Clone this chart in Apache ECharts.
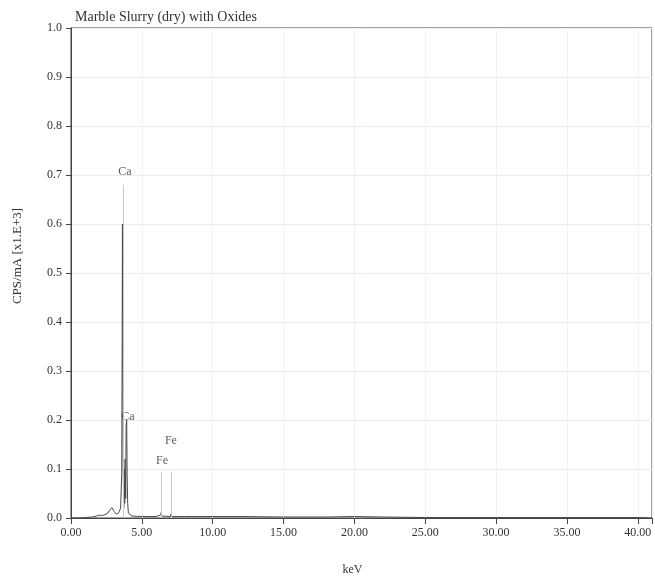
<!DOCTYPE html>
<html><head><meta charset="utf-8">
<script src="https://cdn.jsdelivr.net/npm/echarts@6/dist/echarts.min.js"></script>
<style>html,body{margin:0;padding:0;background:#fff}#c{width:655px;height:581px}</style>
</head><body><div id="c"></div>
<script>
// Spectrum (keV vs CPS/mA x1E+3)
const energyKeV = [0, 0.5, 1.0, 1.5, 1.8, 2.0, 2.2, 2.4, 2.6, 2.75, 2.9, 3.05, 3.2, 3.35, 3.5, 3.58, 3.61, 3.63, 3.65, 3.68, 3.72, 3.76, 3.79, 3.82, 3.86, 3.89, 3.93, 3.96, 4.00, 4.05, 4.12, 4.3, 5.0, 6.0, 6.33, 6.37, 6.41, 7.0, 7.04, 7.08, 8, 10, 12, 15, 18, 20, 22, 25, 30, 35, 40, 41];
const cps = [0, 0, 0.001, 0.002, 0.004, 0.006, 0.005, 0.007, 0.01, 0.017, 0.021, 0.013, 0.008, 0.01, 0.02, 0.09, 0.36, 0.60, 0.38, 0.11, 0.02, 0.10, 0.03, 0.12, 0.04, 0.19, 0.20, 0.09, 0.03, 0.01, 0.006, 0.004, 0.003, 0.003, 0.006, 0.012, 0.004, 0.003, 0.008, 0.003, 0.003, 0.003, 0.003, 0.002, 0.002, 0.003, 0.002, 0.001, 0.001, 0.001, 0.001, 0];
// Element marker lines
const markerE = [3.69, 6.40, 7.06];
const markerTop = [0.68, 0.095, 0.095];
// Peak labels
const labelNames = ['Ca', 'Ca', 'Fe', 'Fe'];
const labelE = [3.81, 4.02, 7.05, 6.42];
const labelY = [0.707, 0.207, 0.157, 0.116];
// Axis ticks
const xTicks = [0, 5, 10, 15, 20, 25, 30, 35, 40];
const yTicks = [0, 0.1, 0.2, 0.3, 0.4, 0.5, 0.6, 0.7, 0.8, 0.9, 1.0];

const FONT = 'Liberation Serif';
const chart = echarts.init(document.getElementById('c'));
chart.setOption({
  animation: false,
  backgroundColor: '#fff',
  textStyle: { fontFamily: FONT },
  title: {
    text: 'Marble Slurry (dry) with Oxides',
    left: 70, top: 5,
    textStyle: { fontFamily: FONT, fontSize: 14, fontWeight: 'normal', color: '#333' }
  },
  grid: { left: 71, right: 3, top: 28, bottom: 61, show: true, borderColor: '#444', borderWidth: 1 },
  xAxis: {
    type: 'value', min: 0, max: 41, interval: 5,
    name: 'keV', nameLocation: 'middle', nameGap: 46,
    nameTextStyle: { fontFamily: FONT, fontSize: 12, color: '#333', padding: [0, 18, 0, 0] },
    axisLine: { lineStyle: { color: '#444' } },
    axisTick: { length: 6, lineStyle: { color: '#444' } },
    axisLabel: { fontFamily: FONT, fontSize: 12, color: '#333', margin: 9,
      formatter: v => xTicks.includes(v) ? v.toFixed(2) : '' },
    splitLine: { show: true, lineStyle: { color: '#f2f2f2' } }
  },
  yAxis: {
    type: 'value', min: 0, max: 1.0, interval: 0.1,
    name: 'CPS/mA [x1.E+3]', nameLocation: 'middle', nameGap: 47, nameRotate: 90,
    nameTextStyle: { fontFamily: FONT, fontSize: 13, color: '#333', padding: [0, 0, 0, 34] },
    axisLine: { show: true, lineStyle: { color: '#444' } },
    axisTick: { show: true, length: 5, lineStyle: { color: '#444' } },
    axisLabel: { fontFamily: FONT, fontSize: 12, color: '#333', margin: 9,
      formatter: v => yTicks.some(t => Math.abs(t - v) < 1e-9) ? v.toFixed(1) : '' },
    splitLine: { show: true, lineStyle: { color: '#ececec' } }
  },
  series: [
    {
      type: 'line', symbol: 'none',
      data: markerE.map((e, i) => [e, markerTop[i]]),
      lineStyle: { width: 0 },
      markLine: {
        symbol: 'none', silent: true,
        lineStyle: { color: '#c8c8c8', width: 1, type: 'solid' },
        label: { show: false },
        data: markerE.map((e, i) => [{ coord: [e, 0] }, { coord: [e, markerTop[i]] }])
      }
    },
    {
      type: 'line', symbol: 'none',
      data: energyKeV.map((e, i) => [e, cps[i]]),
      lineStyle: { color: '#4a4a4a', width: 1 }
    },
    {
      type: 'scatter', symbolSize: 1,
      itemStyle: { color: 'rgba(0,0,0,0)' },
      data: labelE.map((e, i) => ({ value: [e, labelY[i]], name: labelNames[i] })),
      label: { show: true, position: 'inside', formatter: p => p.name,
        fontFamily: FONT, fontSize: 12, color: '#333' }
    }
  ]
});
</script></body></html>
